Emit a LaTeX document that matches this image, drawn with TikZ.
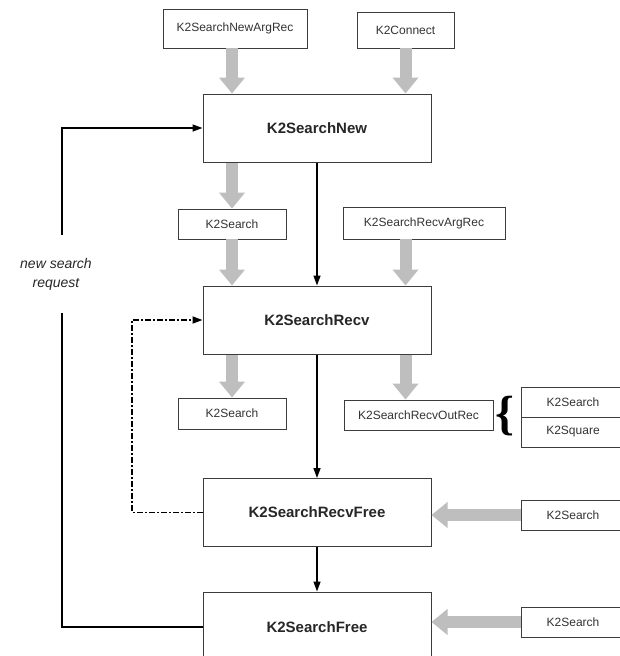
\documentclass[tikz,border=0pt]{standalone}
\usepackage{fontspec}
\setmainfont{Liberation Sans}
\newfontfamily\bracefont{Liberation Serif}
\usetikzlibrary{arrows.meta}
\definecolor{garrow}{RGB}{190,190,190}
\definecolor{bord}{RGB}{60,60,60}
\begin{document}
\begin{tikzpicture}[x=1pt,y=-1pt,
  smallbox/.style={draw=bord,line width=0.9pt,fill=white,inner sep=0pt,font=\fontsize{12}{14}\selectfont,text=black!80},
  mainbox/.style={draw=bord,line width=1pt,fill=white,inner sep=0pt,minimum width=228pt,minimum height=68pt,font=\fontsize{15}{18}\selectfont\bfseries,text=black!85},
  fat/.style={garrow,line width=12pt,-{Triangle[length=16pt,width=25pt]}},
  flow/.style={black,line width=1.5pt,-{Triangle[length=10pt,width=7pt]}},
  dashflow/.style={black,line width=1.7pt,dash pattern=on 6pt off 2pt on 2pt off 2pt,-{Triangle[length=10pt,width=7pt]}},
]
\useasboundingbox (0,0) rectangle (620,656);
\clip (0,0) rectangle (620,656);
\fill[white] (0,0) rectangle (620,656);

% top inputs
\node[smallbox,minimum width=144pt,minimum height=39pt] (argrec) at (235,28.5) {K2SearchNewArgRec};
\node[smallbox,minimum width=97pt,minimum height=36pt] (conn) at (405.5,30) {K2Connect};

% main boxes
\node[mainbox] (new) at (317,128) {K2SearchNew};
\node[mainbox] (recv) at (317,320) {K2SearchRecv};
\node[mainbox] (rfree) at (317,512.5) {K2SearchRecvFree};
\node[mainbox,minimum height=70pt] (free) at (317,627) {K2SearchFree};

% intermediate boxes
\node[smallbox,minimum width=108pt,minimum height=30pt] (s1) at (232,224) {K2Search};
\node[smallbox,minimum width=162pt,minimum height=32pt] (rarg) at (424,223) {K2SearchRecvArgRec};
\node[smallbox,minimum width=108pt,minimum height=31pt] (s2) at (232,413.5) {K2Search};
\node[smallbox,minimum width=149pt,minimum height=30pt] (outrec) at (418.5,415) {K2SearchRecvOutRec};

% right boxes
\node[smallbox,minimum width=104pt,minimum height=30pt] (s3) at (573,402) {K2Search};
\node[smallbox,minimum width=104pt,minimum height=30pt] (sq) at (573,432) {K2Square};
\node[smallbox,minimum width=104pt,minimum height=30pt] (s4) at (573,515) {K2Search};
\node[smallbox,minimum width=104pt,minimum height=30pt] (s5) at (573,622) {K2Search};

% brace
\node[inner sep=0pt,font=\bracefont\bfseries\fontsize{48}{48}\selectfont] (brace) at (505,416) {\{};

% gray data arrows
\draw[fat] (argrec.south -| s1) -- (s1 |- new.north);
\draw[fat] (conn.south) -- (conn.south |- new.north);
\draw[fat] (s1 |- new.south) -- (s1.north);
\draw[fat] (s1.south) -- (s1.south |- recv.north);
\draw[fat] (rarg.south -| conn.south) -- (conn.south |- recv.north);
\draw[fat] (s2 |- recv.south) -- (s2.north);
\draw[fat] (conn |- recv.south) -- (conn |- outrec.north);
\draw[fat] (s4.west) -- (rfree.east |- s4.west);
\draw[fat] (s5.west) -- (free.east |- s5.west);

% control flow
\draw[flow] (new.south) -- (recv.north);
\draw[flow] (recv.south) -- (rfree.north);
\draw[flow] (rfree.south) -- (free.north);

\coordinate (lx) at (62,0);
\draw[flow] (free.west) -| (lx |- new.west) -- (new.west);
\coordinate (dx) at (132,0);
\draw[dashflow] (rfree.west) -| (dx |- recv.west) -- (recv.west);

\node[fill=white,inner sep=0pt,minimum width=95pt,minimum height=78pt,align=center,
      font=\fontsize{14}{19}\selectfont\itshape,text=black!85] (nsr) at (56,274) {new search\\request};
\end{tikzpicture}
\end{document}
